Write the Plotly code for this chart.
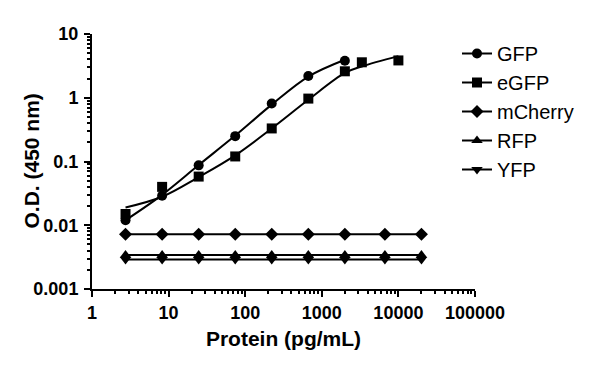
import plotly.graph_objects as go

# Data
x_gfp = [2.74, 8.23, 24.7, 74.1, 222, 667, 2000]
gfp = [0.012, 0.029, 0.087, 0.25, 0.81, 2.2, 3.8]
gfp_fit = [0.012, 0.030, 0.088, 0.255, 0.78, 2.15, 3.95]

x_egfp = [2.74, 8.23, 24.7, 74.1, 222, 667, 2000, 3333, 10000]
egfp = [0.015, 0.040, 0.058, 0.12, 0.33, 0.97, 2.6, 3.6, 3.85]
egfp_fit = [0.019, 0.028, 0.057, 0.125, 0.33, 0.93, 2.45, 3.1, 4.5]

x_flat = [2.74, 8.23, 24.7, 74.1, 222, 667, 2000, 6667, 20000]
mcherry = [0.0072] * 9
rfp = [0.0034] * 9
yfp = [0.0029] * 9

x_tickvals = [1, 10, 100, 1000, 10000, 100000]
x_ticktext = ["1", "10", "100", "1000", "10000", "100000"]
y_tickvals = [0.001, 0.01, 0.1, 1, 10]
y_ticktext = ["0.001", "0.01", "0.1", "1", "10"]

FONT = "Liberation Sans, Arial, sans-serif"
BLACK = "#000000"
LW = 2

fig = go.Figure()

# fitted curves
fig.add_trace(go.Scatter(x=x_gfp, y=gfp_fit, mode="lines", line=dict(color=BLACK, width=LW, shape="spline"),
                         showlegend=False, hoverinfo="skip"))
fig.add_trace(go.Scatter(x=x_egfp, y=egfp_fit, mode="lines", line=dict(color=BLACK, width=LW, shape="spline"),
                         showlegend=False, hoverinfo="skip"))
# data markers
fig.add_trace(go.Scatter(x=x_gfp, y=gfp, mode="markers", marker=dict(symbol="circle", size=10, color=BLACK),
                         showlegend=False))
fig.add_trace(go.Scatter(x=x_egfp, y=egfp, mode="markers", marker=dict(symbol="square", size=10, color=BLACK),
                         showlegend=False))
# legend entries for GFP / eGFP
fig.add_trace(go.Scatter(x=[None], y=[None], mode="lines+markers", name="GFP",
                         line=dict(color=BLACK, width=LW), marker=dict(symbol="circle", size=10, color=BLACK)))
fig.add_trace(go.Scatter(x=[None], y=[None], mode="lines+markers", name="eGFP",
                         line=dict(color=BLACK, width=LW), marker=dict(symbol="square", size=10, color=BLACK)))
# flat series
fig.add_trace(go.Scatter(x=x_flat, y=mcherry, mode="lines+markers", name="mCherry",
                         line=dict(color=BLACK, width=LW), marker=dict(symbol="diamond", size=10, color=BLACK)))
fig.add_trace(go.Scatter(x=x_flat, y=rfp, mode="lines+markers", name="RFP",
                         line=dict(color=BLACK, width=LW), marker=dict(symbol="triangle-up", size=10, color=BLACK)))
fig.add_trace(go.Scatter(x=x_flat, y=yfp, mode="lines+markers", name="YFP",
                         line=dict(color=BLACK, width=LW), marker=dict(symbol="triangle-down", size=10, color=BLACK)))

axis_common = dict(
    type="log", showgrid=False, zeroline=False, showline=True, linecolor=BLACK, linewidth=2,
    ticks="outside", ticklen=6, tickwidth=2, tickcolor=BLACK, automargin=False,
    tickfont=dict(family=FONT, size=18, color=BLACK, weight="bold"),
    minor=dict(ticks="outside", ticklen=3, tickwidth=1.5, tickcolor=BLACK, dtick="D1", showgrid=False),
)

L, R, T, B = 84, 133, 26, 88
fig.update_layout(
    width=600, height=369,
    margin=dict(l=L, r=R, t=T, b=B),
    paper_bgcolor="white", plot_bgcolor="white",
    font=dict(family=FONT, color=BLACK),
    xaxis=dict(range=[0, 5], tickvals=x_tickvals, ticktext=x_ticktext,
               title=dict(text="Protein (pg/mL)", font=dict(family=FONT, size=21, color=BLACK, weight="bold"), standoff=10),
               **axis_common),
    yaxis=dict(range=[-3, 1], tickvals=y_tickvals, ticktext=y_ticktext, ticklabelstandoff=2,
               **axis_common),
    legend=dict(x=0.953, y=1.0, xanchor="left", yanchor="top",
                font=dict(family=FONT, size=20, color=BLACK),
                tracegroupgap=0, itemwidth=30, bgcolor="rgba(0,0,0,0)"),
    annotations=[dict(text="O.D. (450 nm)", textangle=-90, xref="paper", yref="paper",
                      x=(23 - L) / (600 - L - R), y=0.5, xanchor="center", yanchor="middle",
                      showarrow=False, font=dict(family=FONT, size=21, color=BLACK, weight="bold"))],
)

fig.write_html("out.html")
